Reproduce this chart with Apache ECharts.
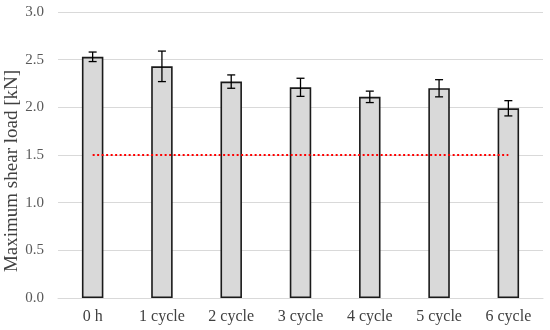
<!DOCTYPE html>
<html><head><meta charset="utf-8">
<script src="https://cdn.jsdelivr.net/npm/echarts@6/dist/echarts.min.js"></script>
<style>html,body{margin:0;padding:0;background:#fff}#c{width:550px;height:330px}</style>
</head><body><div id="c"></div>
<script>
var categories = ['0 h','1 cycle','2 cycle','3 cycle','4 cycle','5 cycle','6 cycle'];
var values = [2.53, 2.43, 2.27, 2.21, 2.11, 2.20, 1.99];
var errors = [0.05, 0.16, 0.07, 0.095, 0.06, 0.09, 0.08];
var threshold = [1.5, 1.5, 1.5, 1.5, 1.5, 1.5, 1.5];
var yTicks = [0, 0.5, 1.0, 1.5, 2.0, 2.5, 3.0];
var yTitle = 'Maximum shear load [kN]';

var font = 'Liberation Serif';
var chart = echarts.init(document.getElementById('c'));
var errData = categories.map(function(c, i){ return [i, values[i] - errors[i], values[i] + errors[i]]; });
chart.setOption({
  animation: false,
  grid: {left: 58, right: 7, top: 12, bottom: 32, containLabel: false, outerBoundsMode: 'none'},
  graphic: [{
    type: 'text', x: 12, y: 171, rotation: Math.PI / 2,
    style: {text: yTitle, fill: '#404040', font: '19px "Liberation Serif"',
            align: 'center', verticalAlign: 'middle'}
  }],
  xAxis: {
    type: 'category', data: categories,
    axisLine: {lineStyle: {color: '#d9d9d9', width: 1}},
    axisTick: {show: false},
    axisLabel: {color: '#404040', fontFamily: font, fontSize: 16, margin: 11}
  },
  yAxis: {
    type: 'value', min: yTicks[0], max: yTicks[yTicks.length-1], interval: 0.5,
    axisLine: {show: false}, axisTick: {show: false},
    axisLabel: {color: '#595959', fontFamily: font, fontSize: 15, margin: 14,
      formatter: function(v){ return v.toFixed(1); }},
    splitLine: {lineStyle: {color: '#d9d9d9', width: 1}}
  },
  series: [
    {type: 'bar', data: values, barWidth: '31%',
     itemStyle: {color: '#d9d9d9', borderColor: '#1a1a1a', borderWidth: 1.6}, z: 2},
    {type: 'line', data: threshold, symbol: 'none',
     lineStyle: {color: '#ff0000', width: 2.2, type: [2, 2.5]}, z: 3},
    {type: 'custom', data: errData, z: 4,
     renderItem: function(params, api){
       var x = api.value(0);
       var lo = api.coord([x, api.value(1)]);
       var hi = api.coord([x, api.value(2)]);
       var hw = 4;
       var st = {stroke: '#000', lineWidth: 1.3};
       return {type: 'group', children: [
         {type: 'line', shape: {x1: lo[0], y1: lo[1], x2: hi[0], y2: hi[1]}, style: st},
         {type: 'line', shape: {x1: lo[0]-hw, y1: lo[1], x2: lo[0]+hw, y2: lo[1]}, style: st},
         {type: 'line', shape: {x1: hi[0]-hw, y1: hi[1], x2: hi[0]+hw, y2: hi[1]}, style: st}
       ]};
     }}
  ]
});
</script></body></html>
